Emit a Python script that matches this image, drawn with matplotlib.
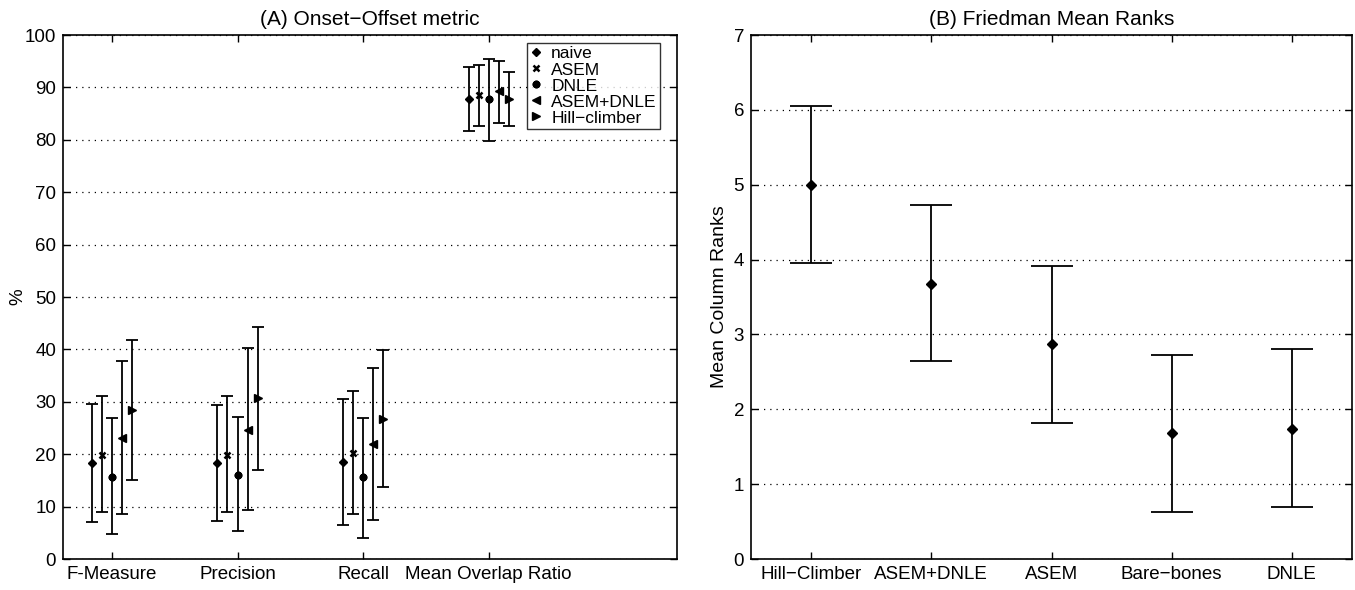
import matplotlib
matplotlib.use("Agg")
import matplotlib.pyplot as plt
import numpy as np

plt.rcParams['font.family'] = ['Liberation Sans', 'DejaVu Sans']

# ---- Panel A data ----
metrics = ["F-Measure", "Precision", "Recall", "Mean Overlap Ratio"]
methods = ["naive", "ASEM", "DNLE", "ASEM+DNLE", "Hill\u2212climber"]
# means, lower bounds, upper bounds per method (order: metrics)
naive_mean = [18.4, 18.3, 18.5, 87.7]
naive_low = [7.0, 7.2, 6.5, 81.7]
naive_high = [29.6, 29.3, 30.5, 93.8]
asem_mean = [19.9, 19.9, 20.3, 88.5]
asem_low = [9.0, 9.0, 8.6, 82.7]
asem_high = [31.1, 31.1, 32.1, 94.2]
dnle_mean = [15.7, 16.1, 15.6, 87.7]
dnle_low = [4.8, 5.4, 4.1, 79.8]
dnle_high = [27.0, 27.1, 26.9, 95.4]
asemdnle_mean = [23.1, 24.7, 21.9, 89.3]
asemdnle_low = [8.6, 9.4, 7.5, 83.2]
asemdnle_high = [37.8, 40.3, 36.4, 95.1]
hill_mean = [28.4, 30.8, 26.7, 87.7]
hill_low = [15.0, 16.9, 13.8, 82.6]
hill_high = [41.7, 44.3, 39.9, 92.9]

# ---- Panel B data ----
rank_labels = ["Hill\u2212Climber", "ASEM+DNLE", "ASEM", "Bare\u2212bones", "DNLE"]
rank_mean = [5.0, 3.68, 2.87, 1.68, 1.73]
rank_low = [3.95, 2.64, 1.82, 0.63, 0.69]
rank_high = [6.05, 4.73, 3.92, 2.73, 2.80]

fig = plt.figure(figsize=(13.55, 5.9), dpi=100)
axA = fig.add_axes([63/1355, 1-559/590, (677-63)/1355, (559-35)/590])
axB = fig.add_axes([751/1355, 1-559/590, (1352-751)/1355, (559-35)/590])

FS = 13.5

def style(ax):
    ax.tick_params(direction='in', top=True, right=True, length=5, width=1.0,
                   labelsize=FS, pad=5)
    for s in ax.spines.values():
        s.set_linewidth(1.2)
    ax.yaxis.grid(True, linestyle=(0, (1, 4)), color='black', linewidth=0.9)
    ax.set_axisbelow(True)

style(axA)
style(axB)

# Panel A
series = [
    (naive_mean, naive_low, naive_high, 'D', 4.5, methods[0]),
    (asem_mean, asem_low, asem_high, 'x', 4.5, methods[1]),
    (dnle_mean, dnle_low, dnle_high, (8, 2, 0), 5.5, methods[2]),
    (asemdnle_mean, asemdnle_low, asemdnle_high, '<', 6, methods[3]),
    (hill_mean, hill_low, hill_high, '>', 6, methods[4]),
]
offsets = [-0.16, -0.08, 0.0, 0.08, 0.16]
xbase = np.arange(1, len(metrics) + 1)
for (m, lo, hi, mk, ms, lab), off in zip(series, offsets):
    m = np.array(m); lo = np.array(lo); hi = np.array(hi)
    axA.errorbar(xbase + off, m, yerr=[m - lo, hi - m], fmt='none',
                 ecolor='black', elinewidth=1.3, capsize=4, capthick=1.3)
    axA.plot(xbase + off, m, linestyle='none', marker=mk, markersize=ms,
             color='black', markeredgewidth=1.8 if mk in ('x',) or isinstance(mk, tuple) else 1.0,
             label=lab)

axA.set_xlim(0.61, 5.5)
axA.set_ylim(0, 100)
axA.set_xticks(xbase)
axA.set_xticklabels(metrics)
axA.set_yticks(np.arange(0, 101, 10))
axA.set_ylabel('%', fontsize=FS, labelpad=-1)
axA.set_title('(A) Onset\u2212Offset metric', fontsize=15, pad=7)
leg = axA.legend(loc='upper right', fontsize=12.5, frameon=True, fancybox=False,
                 edgecolor='black', handlelength=0.7, handletextpad=0.5,
                 borderpad=0.2, labelspacing=0.05, borderaxespad=0.0,
                 bbox_to_anchor=(0.9725, 0.985))
leg.get_frame().set_linewidth(1.0)

# Panel B
xr = np.arange(1, len(rank_labels) + 1)
rm = np.array(rank_mean); rl = np.array(rank_low); rh = np.array(rank_high)
axB.errorbar(xr, rm, yerr=[rm - rl, rh - rm], fmt='D', color='black',
             markersize=5, ecolor='black', elinewidth=1.3, capsize=15, capthick=1.3)
axB.set_xlim(0.5, 5.5)
axB.set_ylim(0, 7)
axB.set_xticks(xr)
axB.set_xticklabels(rank_labels)
axB.set_yticks(np.arange(0, 8, 1))
axB.set_ylabel('Mean Column Ranks', fontsize=14)
axB.set_title('(B) Friedman Mean Ranks', fontsize=15, pad=7)

fig.savefig('out.png', dpi=100)
